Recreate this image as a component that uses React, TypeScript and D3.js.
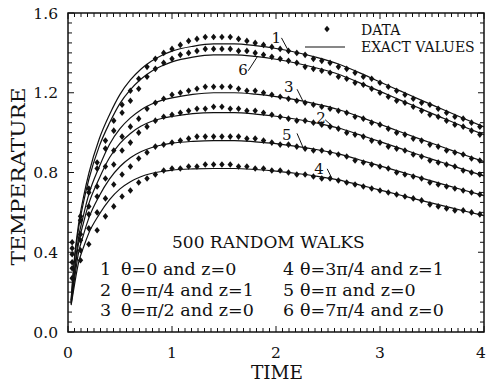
import React from "react";
import * as d3 from "d3";

// Sample times of the random-walk estimates
const TIMES = [0.04, 0.12, 0.2, 0.28, 0.36, 0.44, 0.52, 0.6, 0.68, 0.76, 0.84, 0.92,
  1.0, 1.08, 1.16, 1.24, 1.32, 1.4, 1.48, 1.56, 1.64, 1.72, 1.8, 1.88, 1.96,
  2.04, 2.12, 2.2, 2.28, 2.36, 2.44, 2.52, 2.6, 2.68, 2.76, 2.84, 2.92,
  3.0, 3.08, 3.16, 3.24, 3.32, 3.4, 3.48, 3.56, 3.64, 3.72, 3.8, 3.88, 3.96];

const DATA_1 = [0.45, 0.58, 0.72, 0.85, 0.96, 1.06, 1.14, 1.21, 1.27, 1.33, 1.37, 1.40,
  1.42, 1.44, 1.46, 1.47, 1.48, 1.48, 1.48, 1.48, 1.47, 1.46, 1.45, 1.44, 1.43,
  1.42, 1.41, 1.40, 1.39, 1.37, 1.36, 1.35, 1.33, 1.32, 1.30, 1.28, 1.27,
  1.25, 1.23, 1.21, 1.19, 1.17, 1.15, 1.14, 1.12, 1.10, 1.08, 1.07, 1.05, 1.03];
const DATA_2 = [0.35, 0.46, 0.59, 0.68, 0.77, 0.84, 0.91, 0.95, 1.0, 1.03, 1.06, 1.08,
  1.09, 1.10, 1.11, 1.12, 1.12, 1.13, 1.13, 1.12, 1.12, 1.11, 1.11, 1.10, 1.09,
  1.08, 1.07, 1.06, 1.06, 1.05, 1.04, 1.03, 1.02, 1.00, 0.99, 0.98, 0.96,
  0.95, 0.93, 0.92, 0.91, 0.89, 0.88, 0.86, 0.85, 0.84, 0.83, 0.81, 0.80, 0.79];
const DATA_3 = [0.39, 0.49, 0.63, 0.73, 0.83, 0.91, 0.98, 1.03, 1.07, 1.12, 1.15, 1.17,
  1.19, 1.20, 1.21, 1.22, 1.23, 1.23, 1.23, 1.23, 1.22, 1.21, 1.21, 1.20, 1.19,
  1.18, 1.17, 1.16, 1.15, 1.14, 1.13, 1.12, 1.11, 1.10, 1.08, 1.07, 1.05,
  1.04, 1.02, 1.00, 0.99, 0.97, 0.96, 0.94, 0.93, 0.91, 0.90, 0.89, 0.87, 0.86];
const DATA_4 = [0.27, 0.36, 0.44, 0.51, 0.58, 0.63, 0.68, 0.71, 0.75, 0.77, 0.79, 0.81,
  0.82, 0.82, 0.83, 0.83, 0.84, 0.84, 0.84, 0.84, 0.83, 0.83, 0.82, 0.82, 0.81,
  0.81, 0.80, 0.79, 0.79, 0.78, 0.77, 0.77, 0.76, 0.75, 0.74, 0.73, 0.72,
  0.71, 0.70, 0.69, 0.68, 0.67, 0.66, 0.64, 0.63, 0.62, 0.61, 0.61, 0.60, 0.59];
const DATA_5 = [0.32, 0.41, 0.52, 0.60, 0.67, 0.74, 0.79, 0.83, 0.87, 0.90, 0.93, 0.94,
  0.95, 0.96, 0.97, 0.98, 0.98, 0.98, 0.98, 0.98, 0.98, 0.97, 0.97, 0.96, 0.95,
  0.94, 0.94, 0.93, 0.92, 0.91, 0.91, 0.90, 0.89, 0.88, 0.86, 0.85, 0.84,
  0.83, 0.82, 0.80, 0.79, 0.78, 0.77, 0.75, 0.74, 0.73, 0.72, 0.71, 0.70, 0.69];
const DATA_6 = [0.42, 0.56, 0.70, 0.82, 0.92, 1.01, 1.10, 1.16, 1.22, 1.28, 1.32, 1.35,
  1.37, 1.39, 1.40, 1.41, 1.42, 1.42, 1.42, 1.42, 1.41, 1.41, 1.40, 1.39, 1.38,
  1.37, 1.36, 1.35, 1.33, 1.32, 1.31, 1.30, 1.28, 1.27, 1.25, 1.24, 1.22,
  1.20, 1.18, 1.16, 1.15, 1.13, 1.11, 1.09, 1.08, 1.06, 1.04, 1.03, 1.01, 0.99];

// Times at which the exact solution is tabulated
const EXACT_TIMES = [0.03, 0.06, 0.1, 0.15, 0.2, 0.3, 0.4, 0.5, 0.6, 0.7, 0.8, 0.9, 1.0,
  1.2, 1.4, 1.6, 1.8, 2.0, 2.2, 2.4, 2.6, 2.8, 3.0, 3.2, 3.4, 3.6, 3.8, 4.0];

const EXACT_1 = [0.16, 0.361, 0.535, 0.679, 0.795, 0.968, 1.091, 1.192, 1.264, 1.318, 1.358, 1.387, 1.409,
  1.433, 1.445, 1.445, 1.436, 1.422, 1.402, 1.376, 1.344, 1.301, 1.254, 1.208, 1.162, 1.117, 1.072, 1.029];
const EXACT_2 = [0.145, 0.28, 0.44, 0.55, 0.644, 0.77, 0.875, 0.946, 0.996, 1.032, 1.056, 1.071, 1.081,
  1.095, 1.1, 1.1, 1.093, 1.082, 1.067, 1.047, 1.023, 0.99, 0.955, 0.92, 0.884, 0.85, 0.816, 0.783];
const EXACT_3 = [0.15, 0.3, 0.468, 0.588, 0.69, 0.828, 0.942, 1.02, 1.074, 1.114, 1.142, 1.162, 1.174,
  1.192, 1.2, 1.2, 1.193, 1.181, 1.164, 1.142, 1.116, 1.08, 1.042, 1.003, 0.965, 0.928, 0.89, 0.854];
const EXACT_4 = [0.135, 0.23, 0.344, 0.426, 0.496, 0.59, 0.664, 0.718, 0.754, 0.779, 0.795, 0.805, 0.812,
  0.818, 0.82, 0.82, 0.815, 0.807, 0.795, 0.781, 0.763, 0.738, 0.712, 0.686, 0.659, 0.634, 0.608, 0.584];
const EXACT_5 = [0.14, 0.255, 0.394, 0.49, 0.571, 0.682, 0.768, 0.83, 0.874, 0.904, 0.924, 0.938, 0.947,
  0.956, 0.96, 0.96, 0.954, 0.945, 0.931, 0.914, 0.893, 0.864, 0.833, 0.803, 0.772, 0.742, 0.712, 0.684];
const EXACT_6 = [0.155, 0.348, 0.514, 0.653, 0.765, 0.931, 1.049, 1.147, 1.216, 1.268, 1.307, 1.334, 1.355,
  1.379, 1.39, 1.39, 1.382, 1.368, 1.348, 1.323, 1.293, 1.251, 1.207, 1.162, 1.118, 1.074, 1.031, 0.99];

const CASE_IDS = ["1", "2", "3", "4", "5", "6"];
const CASE_TEXT = ["θ=0 and z=0", "θ=π/4 and z=1", "θ=π/2 and z=0",
  "θ=3π/4 and z=1", "θ=π and z=0", "θ=7π/4 and z=0"];
// time at which each curve number points at its exact curve
const CASE_LABEL_TIME = [2.12, 2.55, 2.26, 2.54, 2.26, 1.82];

const X_TICKS = [0, 1, 2, 3, 4];
const Y_TICKS = [0.0, 0.4, 0.8, 1.2, 1.6];
const TITLE = "500 RANDOM WALKS";
const LEGEND = ["DATA", "EXACT VALUES"];

const SERIES = [
  { data: DATA_1, exact: EXACT_1 },
  { data: DATA_2, exact: EXACT_2 },
  { data: DATA_3, exact: EXACT_3 },
  { data: DATA_4, exact: EXACT_4 },
  { data: DATA_5, exact: EXACT_5 },
  { data: DATA_6, exact: EXACT_6 },
];

// label placement relative to the point on the curve: [textDx, textDy, leaderDx, leaderDy]
const LABEL_OFFSETS = [
  [-17, -8, -7, -13],
  [-17, -4, -8, -7],
  [-19, -9, -6, -12],
  [-18, -5, -5, -10],
  [-21, -7, -6, -14],
  [-19, 18, -9, 14],
];

const FONT = '"DejaVu Serif", serif';
const W = 487;
const H = 389;
const L = 68, R = 484, T = 13, B = 332;

const diamond = "M0,-3.3L2.7,0L0,3.3L-2.7,0Z";

export default function App() {
  const x = d3.scaleLinear().domain([0, 4]).range([L, R]);
  const y = d3.scaleLinear().domain([0, 1.6]).range([B, T]);
  const exactLine = d3
    .line<number>()
    .x((_, i) => x(EXACT_TIMES[i]))
    .y((v) => y(v))
    .curve(d3.curveMonotoneX);

  const xMinor = d3.range(0, 4.0001, 1 / 16);
  const yMinor = d3.range(0, 1.6001, 0.05);

  const exactAt = (arr: number[], t: number) => {
    const idx = d3.bisectLeft(EXACT_TIMES, t);
    const t0 = EXACT_TIMES[idx - 1], t1 = EXACT_TIMES[idx];
    const f = (t - t0) / (t1 - t0);
    return arr[idx - 1] * (1 - f) + arr[idx] * f;
  };

  const txt = { fontFamily: FONT, fill: "#111" } as React.CSSProperties;

  return (
    <svg width={W} height={H} style={{ position: "absolute", left: 0, top: 0, background: "#fff" }}>
      <defs>
        <clipPath id="plot">
          <rect x={L} y={T} width={R - L} height={B - T} />
        </clipPath>
      </defs>
      <rect width={W} height={H} fill="#fff" />

      {/* minor and major ticks, pointing inward on all four sides */}
      <g stroke="#111" strokeWidth={1}>
        {xMinor.map((t, i) => {
          const major = Math.abs(t - Math.round(t)) < 1e-6;
          const len = major ? 6 : 4;
          return (
            <g key={"xt" + i}>
              <line x1={x(t)} x2={x(t)} y1={B} y2={B - len} />
              <line x1={x(t)} x2={x(t)} y1={T} y2={T + len} />
            </g>
          );
        })}
        {yMinor.map((v, i) => {
          const major = Math.abs(v / 0.4 - Math.round(v / 0.4)) < 1e-6;
          const len = major ? 6 : 4;
          return (
            <g key={"yt" + i}>
              <line x1={L} x2={L + len} y1={y(v)} y2={y(v)} />
              <line x1={R} x2={R - len} y1={y(v)} y2={y(v)} />
            </g>
          );
        })}
      </g>

      <g clipPath="url(#plot)">
        {SERIES.map((s, i) => (
          <path key={"ex" + i} d={exactLine(s.exact) || ""} fill="none" stroke="#111" strokeWidth={1.2} />
        ))}
        {SERIES.map((s, i) =>
          s.data.map((v, j) => (
            <path key={"d" + i + "-" + j} d={diamond}
              transform={`translate(${x(TIMES[j])},${y(v)})`} fill="#111" />
          ))
        )}
      </g>

      <rect x={L} y={T} width={R - L} height={B - T} fill="none" stroke="#111" strokeWidth={1.5} />

      {/* curve numbers with leader lines */}
      {SERIES.map((s, i) => {
        const t = CASE_LABEL_TIME[i];
        const px = x(t);
        const py = y(exactAt(s.exact, t));
        const [tdx, tdy, ldx, ldy] = LABEL_OFFSETS[i];
        return (
          <g key={"lab" + i}>
            <line x1={px + ldx} y1={py + ldy} x2={px} y2={py} stroke="#111" strokeWidth={1} />
            <text x={px + tdx} y={py + tdy} style={{ ...txt, fontSize: 15 }}>{CASE_IDS[i]}</text>
          </g>
        );
      })}

      {/* legend */}
      <path d={diamond} transform="translate(327,29)" fill="#111" />
      <line x1={305} x2={345} y1={47} y2={47} stroke="#111" strokeWidth={1.2} />
      <text x={361} y={35} style={{ ...txt, fontSize: 14 }}>{LEGEND[0]}</text>
      <text x={361} y={51.5} style={{ ...txt, fontSize: 14 }}>{LEGEND[1]}</text>

      {/* annotation block */}
      <text x={172} y={248} style={{ ...txt, fontSize: 17 }}>{TITLE}</text>
      {CASE_IDS.map((id, i) => {
        const col = i < 3 ? 0 : 1;
        const row = i % 3;
        const nx = col === 0 ? 100 : 283;
        const tx = col === 0 ? 121 : 300;
        const by = 275 + row * 20.5;
        return (
          <g key={"row" + i}>
            <text x={nx} y={by} style={{ ...txt, fontSize: 17.5 }}>{id}</text>
            <text x={tx} y={by} style={{ ...txt, fontSize: 17.5 }}>{CASE_TEXT[i]}</text>
          </g>
        );
      })}

      {/* tick labels */}
      {Y_TICKS.map((v) => (
        <text key={"yl" + v} x={58} y={y(v) + 5.5} textAnchor="end"
          style={{ ...txt, fontSize: 15.5 }}>{v.toFixed(1)}</text>
      ))}
      {X_TICKS.map((v) => (
        <text key={"xl" + v} x={Math.min(x(v), 481)} y={358} textAnchor="middle"
          style={{ ...txt, fontSize: 15.5 }}>{String(v)}</text>
      ))}

      {/* axis titles */}
      <text x={277} y={379} textAnchor="middle" style={{ ...txt, fontSize: 18.5 }}>TIME</text>
      <text transform={`translate(25,${(83 + 270) / 2}) rotate(-90)`}
        textAnchor="middle" style={{ ...txt, fontSize: 19 }}
        textLength={178} lengthAdjust="spacingAndGlyphs">TEMPERATURE</text>
    </svg>
  );
}
